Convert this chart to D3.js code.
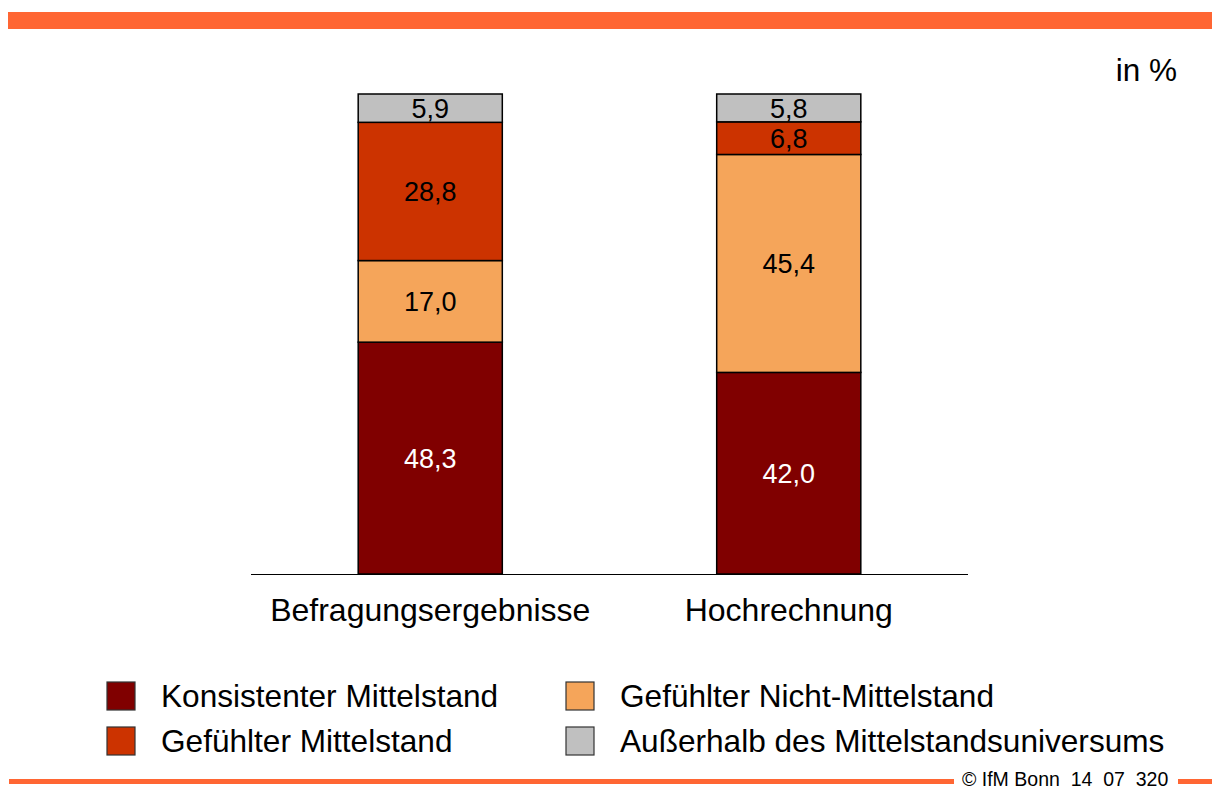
<!DOCTYPE html>
<html>
<head>
<meta charset="utf-8">
<script src="https://cdn.jsdelivr.net/npm/d3@7"></script>
<style>
  html, body { margin: 0; padding: 0; background: #fff; }
  svg { display: block; font-family: "Liberation Sans", Arial, sans-serif; }
</style>
</head>
<body>
<svg id="chart" width="1216" height="790"></svg>
<script>
// ---- data ----
const categories = ["Befragungsergebnisse", "Hochrechnung"];
const seriesNames = ["Konsistenter Mittelstand", "Gefühlter Nicht-Mittelstand", "Gefühlter Mittelstand", "Außerhalb des Mittelstandsuniversums"];
const konsistenter = [48.3, 42.0];
const gefuehlterNicht = [17.0, 45.4];
const gefuehlter = [28.8, 6.8];
const ausserhalb = [5.9, 5.8];
const seriesColors = ["#800000", "#F5A55A", "#CC3300", "#C0C0C0"];
const labelColors = ["#ffffff", "#000000", "#000000", "#000000"];
const unitLabel = "in %";
const footerText = "© IfM Bonn  14  07  320";
// legend order: column-major as in reference
const legendOrder = [0, 2, 1, 3];

const seriesValues = [konsistenter, gefuehlterNicht, gefuehlter, ausserhalb];
const rows = categories.map((c, i) => {
  const r = { cat: c };
  seriesNames.forEach((s, j) => r[s] = seriesValues[j][i]);
  return r;
});

const svg = d3.select("#chart");
const fmt = v => d3.format(".1f")(v).replace(".", ",");

// top bar
svg.append("rect").attr("x", 8).attr("y", 12).attr("width", 1204).attr("height", 17).attr("fill", "#FF6633");

const x = d3.scaleBand().domain(categories).range([251, 968]).paddingInner(0.598).paddingOuter(0.299);
const y = d3.scaleLinear().domain([0, 100]).range([574, 94]);

const stack = d3.stack().keys(seriesNames)(rows);

const g = svg.append("g");
stack.forEach((layer, li) => {
  const lg = g.append("g");
  lg.selectAll("rect").data(layer).join("rect")
    .attr("x", d => x(d.data.cat))
    .attr("width", x.bandwidth())
    .attr("y", d => y(d[1]))
    .attr("height", d => y(d[0]) - y(d[1]))
    .attr("fill", seriesColors[li])
    .attr("stroke", "#000")
    .attr("stroke-width", 1.5);
  lg.selectAll("text").data(layer).join("text")
    .attr("x", d => x(d.data.cat) + x.bandwidth() / 2)
    .attr("y", d => (y(d[0]) + y(d[1])) / 2)
    .attr("dy", "0.36em")
    .attr("text-anchor", "middle")
    .attr("font-size", 27)
    .attr("fill", labelColors[li])
    .text(d => fmt(d[1] - d[0]));
});

// baseline axis
const axis = d3.axisBottom(x).tickSize(0).tickPadding(0);
const ax = svg.append("g").attr("transform", "translate(0,574)").call(axis);
ax.select(".domain").attr("d", "M251,0.5H968").attr("stroke", "#000").attr("stroke-width", 1.2);
ax.selectAll(".tick text")
  .attr("y", 47).attr("dy", 0)
  .attr("font-size", 32)
  .attr("font-family", "Liberation Sans, Arial, sans-serif")
  .attr("fill", "#000");

// unit
svg.append("text").attr("x", 1177).attr("y", 81).attr("text-anchor", "end")
  .attr("font-size", 31.5).attr("fill", "#000").text(unitLabel);

// legend
const legendPos = [[107, 682], [107, 727], [566, 682], [566, 727]];
legendOrder.forEach((si, k) => {
  const [lx, ly] = legendPos[k];
  svg.append("rect").attr("x", lx).attr("y", ly).attr("width", 28).attr("height", 28)
    .attr("fill", seriesColors[si]).attr("stroke", "#333").attr("stroke-width", 1.2);
  svg.append("text").attr("x", lx + 54).attr("y", ly + 14).attr("dy", "0.36em")
    .attr("font-size", 31.6).attr("fill", "#000").text(seriesNames[si]);
});

// footer
svg.append("rect").attr("x", 9).attr("y", 779).attr("width", 945).attr("height", 5).attr("fill", "#FF6633");
svg.append("rect").attr("x", 1178).attr("y", 779).attr("width", 34).attr("height", 5).attr("fill", "#FF6633");
svg.append("text").attr("x", 962).attr("y", 786).attr("font-size", 19.5)
  .style("white-space", "pre").attr("fill", "#000").text(footerText);
</script>
</body>
</html>
